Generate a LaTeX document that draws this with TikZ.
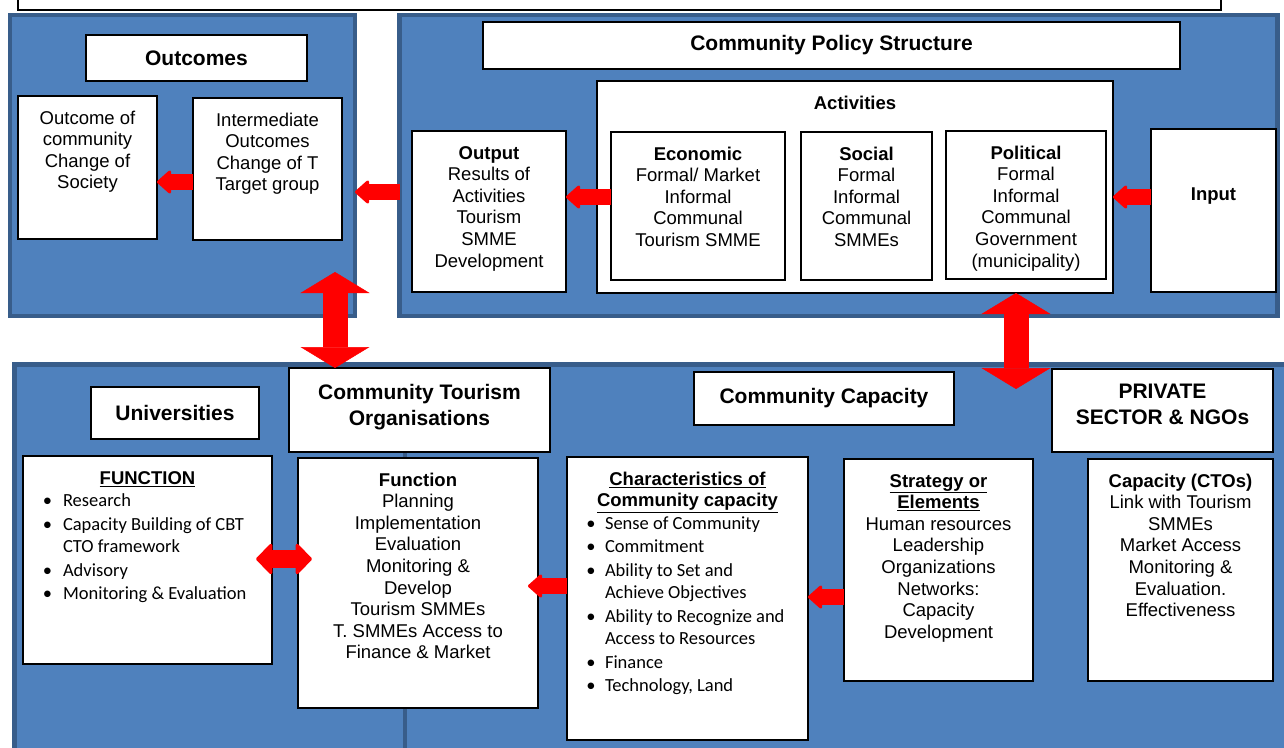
\documentclass[tikz,border=0pt]{standalone}
\usepackage{fontspec}
\setmainfont{Liberation Sans}
\newfontfamily\calibri{Carlito}
\usetikzlibrary{arrows.meta}
\definecolor{panelblue}{HTML}{4F81BD}
\definecolor{paneledge}{HTML}{385D8A}
\pgfdeclarelayer{panellayer}
\pgfdeclarelayer{boxlayer}
\pgfdeclarelayer{arrowlayer}
\pgfsetlayers{panellayer,boxlayer,arrowlayer,main}
\tikzstyle{panel}=[draw=paneledge, fill=panelblue, line width=4.5pt, anchor=north west, inner sep=0pt, outer sep=0pt]
\tikzstyle{box}=[draw=black, fill=white, line width=1.2pt, anchor=north west, inner sep=0pt, outer sep=0pt, font=\fontsize{18.5}{21.6}\selectfont]
\tikzstyle{title}=[box, font=\bfseries\fontsize{21}{26}\selectfont]
\tikzstyle{redarrow}=[draw=red, line width=16pt, -{Triangle[width=26pt,length=15pt,line width=3pt,round]}]
\tikzstyle{twoway}=[draw=red, line width=18pt, {Triangle[width=34pt,length=17pt,line width=3pt,round]}-{Triangle[width=34pt,length=17pt,line width=3pt,round]}]
\tikzstyle{bigarrow}=[draw=red, line width=25pt, {Triangle[width=69pt,length=21pt,line width=0.5pt]}-{Triangle[width=69pt,length=21pt,line width=0.5pt]}]
% top aligned text inside a box of fixed size
\newcommand{\inbox}[4][13pt]{\parbox[t][#3][t]{#2}{\centering\vspace*{#1}\strut #4}}
% bullet list in the lower boxes
\newenvironment{dotlist}[2]{\begin{list}{\textbullet}{\setlength{\leftmargin}{#1}\setlength{\labelwidth}{20pt}\setlength{\labelsep}{#2}\setlength{\itemsep}{1pt}\setlength{\parsep}{0pt}\setlength{\topsep}{0pt}\setlength{\partopsep}{0pt}\setlength{\rightmargin}{0pt}}\raggedright}{\end{list}}

\begin{document}
\begin{tikzpicture}[x=1pt,y=-1pt]
\useasboundingbox (0,0) rectangle (1284,747);
\begin{pgfonlayer}{panellayer}
	\node[panel, minimum width=345pt, minimum height=301pt] (pOut) at (10,15) {};
	\node[panel, minimum width=878pt, minimum height=301pt] (pPol) at (399.5,15) {};
	\node[panel, minimum width=391pt, minimum height=420pt] (pUni) at (14.5,364.5) {};
	\node[panel, minimum width=900pt, minimum height=420pt] (pCap) at (405,364.5) {};
\end{pgfonlayer}
\begin{pgfonlayer}{boxlayer}
	\node[box, minimum width=1203pt, minimum height=25pt] (head) at (18,-15) {};
	% outcomes
	\node[title, minimum width=221pt, minimum height=46pt] (outt) at (86,35) {Outcomes};
	\node[box] (outc) at (18,96) {\inbox{139pt}{143pt}{Outcome of\\community\\Change of\\Society}};
	\node[box] (inter) at (193,98) {\inbox{149pt}{142pt}{Intermediate\\Outcomes\\Change of T\\Target group}};
	% policy structure
	\node[title, minimum width=697pt, minimum height=47pt] (cps) at (483,22) {Community Policy Structure};
	\node[box] (act) at (597,81) {\inbox{516pt}{212pt}{\textbf{Activities}}};
	\node[box] (outp) at (412,131) {\inbox{154pt}{161pt}{\textbf{Output}\\Results of\\Activities\\Tourism\\SMME\\Development}};
	\node[box] (eco) at (611,132) {\inbox{174pt}{148pt}{\textbf{Economic}\\Formal/ Market\\Informal\\Communal\\Tourism SMME}};
	\node[box] (soc) at (801,132) {\inbox{131pt}{148pt}{\textbf{Social}\\Formal\\Informal\\Communal\\SMMEs}};
	\node[box] (polt) at (946,131) {\inbox{160pt}{148pt}{\textbf{Political}\\Formal\\Informal\\Communal\\Government\\(municipality)}};
	\node[box] (inp) at (1151,129) {\inbox[56.5pt]{125pt}{163pt}{\textbf{Input}}};
	% universities and CTOs
	\node[title, minimum width=168pt, minimum height=52pt] (uni) at (91,387) {Universities};
	\node[title] (ctot) at (289,368) {\inbox{261pt}{84pt}{Community Tourism\\Organisations}};
	\node[box] (fnu) at (23,456) {\inbox{249pt}{208pt}{\textbf{\underline{FUNCTION}}\par
		{\calibri\fontsize{18.5}{22.5}\selectfont
		\begin{dotlist}{40pt}{11pt}
			\item Research
			\item Capacity Building of CBT\newline CTO framework
			\item Advisory
			\item Monitoring \& Evaluation
		\end{dotlist}}}};
	\node[box] (fnc) at (298,458) {\inbox{240pt}{250pt}{\textbf{Function}\\Planning\\Implementation\\Evaluation\\Monitoring \&\\Develop\\Tourism SMMEs\\T. SMMEs Access to\\Finance \& Market}};
	% community capacity
	\node[title, minimum width=260pt, minimum height=53pt] (ccap) at (694,372) {Community Capacity};
	\node[title] (priv) at (1052,369) {\inbox[11pt]{221pt}{83pt}{PRIVATE\\SECTOR \& NGOs}};
	\node[box] (chr) at (567,457) {\inbox{241pt}{283pt}{\textbf{\underline{Characteristics of}}\\\textbf{\underline{Community capacity}}\par
		{\calibri\fontsize{18.5}{22.5}\selectfont
		\begin{dotlist}{38pt}{9.5pt}
			\item Sense of Community
			\item Commitment
			\item Ability to Set and\newline Achieve Objectives
			\item Ability to Recognize and\newline Access to Resources
			\item Finance
			\item Technology, Land
		\end{dotlist}}}};
	\node[box] (strat) at (844,459) {\inbox{189pt}{222pt}{\textbf{\underline{Strategy or}}\\\textbf{\underline{Elements}}\\Human resources\\Leadership\\Organizations\\Networks:\\Capacity\\Development}};
	\node[box] (capc) at (1088,459) {\inbox{185pt}{222pt}{\textbf{Capacity (CTOs)}\\Link with Tourism\\SMMEs\\Market Access\\Monitoring \&\\Evaluation.\\Effectiveness}};
\end{pgfonlayer}
\begin{pgfonlayer}{arrowlayer}
	\coordinate (t1) at (335,272);
	\coordinate (b2) at (1016,389);
	\draw[redarrow] (inter.west |- 0,182) -- (outc.east |- 0,182);
	\draw[redarrow] (pPol.west |- 0,192) -- (pOut.east |- 0,192);
	\draw[redarrow] (eco.west |- 0,197) -- (outp.east |- 0,197);
	\draw[redarrow] (inp.west |- 0,197) -- (act.east |- 0,197);
	\draw[redarrow, shorten >=-10pt] (chr.west |- 0,586) -- (fnc.east |- 0,586);
	\draw[redarrow] (strat.west |- 0,597) -- (chr.east |- 0,597);
	\draw[twoway, shorten <=-16pt, shorten >=-14pt] (fnu.east |- 0,559) -- (fnc.west |- 0,559);
	\draw[bigarrow] (t1) -- (ctot.north -| t1);
	\draw[bigarrow] (act.south -| b2) -- (b2);
\end{pgfonlayer}
\end{tikzpicture}
\end{document}
